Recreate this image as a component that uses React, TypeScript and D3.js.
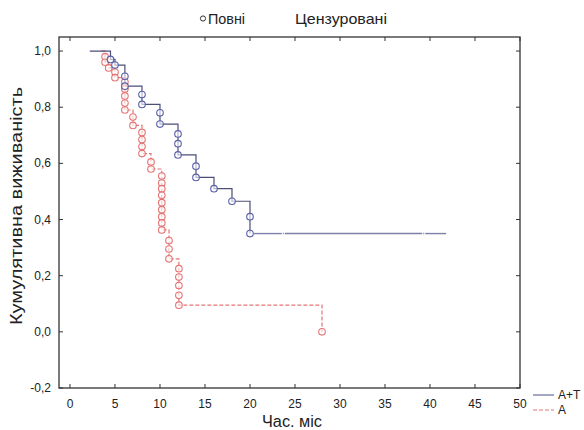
import React from "react";
import * as d3 from "d3";

const W = 584;
const H = 430;

// A+T: circle = complete observation (time, survival after event)
const atStart = [2.2, 1.0];
const atTimes = [4.5, 5.0, 6.1, 6.1, 8, 8, 10, 10, 12, 12, 12, 14, 14, 16, 18, 20, 20];
const atSurv = [0.97, 0.95, 0.91, 0.875, 0.845, 0.81, 0.78, 0.74, 0.705, 0.67, 0.63, 0.59, 0.55, 0.51, 0.465, 0.41, 0.35];
const atEnd = 41.8;
const atCensored = [23.7, 39.3];

// A
const aStart = [3.5, 1.0];
const aTimes = [3.9, 3.9, 4.3, 5.0, 5.0, 6.1, 6.1, 6.1, 6.1, 6.1, 7, 7, 8, 8, 8, 8, 9, 9,
  10.2, 10.2, 10.2, 10.2, 10.2, 10.2, 10.2, 10.2, 10.2, 11, 11, 11, 12.1, 12.1, 12.1, 12.1, 12.1, 28];
const aSurv = [0.98, 0.96, 0.94, 0.925, 0.905, 0.89, 0.865, 0.84, 0.815, 0.79, 0.765, 0.735, 0.71, 0.685, 0.66, 0.635, 0.605, 0.58,
  0.555, 0.53, 0.51, 0.486, 0.46, 0.435, 0.41, 0.388, 0.363, 0.325, 0.295, 0.26, 0.225, 0.195, 0.165, 0.13, 0.095, 0.0];

const xTicks = [0, 5, 10, 15, 20, 25, 30, 35, 40, 45, 50];
const yTicks = [-0.2, 0.0, 0.2, 0.4, 0.6, 0.8, 1.0];

const FONT = "'Liberation Sans Narrow', 'Liberation Sans', Arial, sans-serif";
const BLUE_LINE = "#4b4f78";
const BLUE_DOT = "#5a5fa8";
const RED = "#e47474";

const left = 59, right = 520, top = 37, bottom = 388;

const fmt = (v: number) => d3.format(".1f")(v).replace(".", ",").replace("−", "-");

const App = () => {
  const x = d3.scaleLinear().domain([-1.22, 50]).range([left, right]);
  const y = d3.scaleLinear().domain([-0.2, 1.05]).range([bottom, top]);

  const stepLine = d3.line<[number, number]>()
    .x(d => x(d[0]))
    .y(d => y(d[1]))
    .curve(d3.curveStepAfter);

  const atPts: [number, number][] = [[atStart[0], atStart[1]], ...atTimes.map((t, i) => [t, atSurv[i]] as [number, number])];
  const aPts: [number, number][] = [[aStart[0], aStart[1]], ...aTimes.map((t, i) => [t, aSurv[i]] as [number, number])];

  const lastAt = atSurv[atSurv.length - 1];
  // tail of A+T split around censored marks
  const tailBreaks = [atTimes[atTimes.length - 1], ...atCensored, atEnd];
  const tailSegs = d3.pairs(tailBreaks).map(([a, b], i) => [
    x(a) + (i === 0 ? 4 : 1.5), x(b) - (i === tailBreaks.length - 2 ? 0 : 1.5)
  ]);

  return (
    <svg width={W} height={H} style={{ position: "absolute", left: 0, top: 0, background: "#fff" }}>
      {/* top legend */}
      <circle cx={203} cy={18.5} r={2.6} fill="none" stroke="#333" strokeWidth={1} />
      <text x={208} y={24} fontFamily={FONT} fontSize={15} fill="#222" textLength={37} lengthAdjust="spacingAndGlyphs">Повні</text>
      <text x={295} y={24} fontFamily={FONT} fontSize={15} fill="#222" textLength={92} lengthAdjust="spacingAndGlyphs">Цензуровані</text>

      {/* curves */}
      <path d={stepLine(aPts) || ""} fill="none" stroke={RED} strokeWidth={1.2} strokeDasharray="4,2" />
      <path d={stepLine(atPts) || ""} fill="none" stroke={BLUE_LINE} strokeWidth={1.2} />
      {tailSegs.map(([a, b], i) => (
        <line key={"tail" + i} x1={a} x2={b} y1={y(lastAt)} y2={y(lastAt)} stroke="#7d80a8" strokeWidth={1.4} />
      ))}
      {atCensored.map((t, i) => (
        <line key={"c" + i} x1={x(t) - 0.5} x2={x(t) + 0.5} y1={y(lastAt)} y2={y(lastAt)} stroke="#7d80a8" strokeWidth={1.4} />
      ))}

      {aTimes.map((t, i) => (
        <circle key={"a" + i} cx={x(t)} cy={y(aSurv[i])} r={3.3} fill="#fff" fillOpacity={0.6} stroke={RED} strokeWidth={1.1} />
      ))}
      {atTimes.map((t, i) => (
        <circle key={"at" + i} cx={x(t)} cy={y(atSurv[i])} r={3.3} fill="#fff" fillOpacity={0.6} stroke={BLUE_DOT} strokeWidth={1.1} />
      ))}

      {/* frame */}
      <rect x={left} y={top} width={right - left} height={bottom - top} fill="none" stroke="#333" strokeWidth={1.3} />

      {/* x ticks */}
      {xTicks.map(t => (
        <g key={"xt" + t}>
          <line x1={x(t)} x2={x(t)} y1={bottom} y2={bottom - 4} stroke="#333" />
          <line x1={x(t)} x2={x(t)} y1={top} y2={top + 4} stroke="#333" />
          <text x={x(t)} y={408} textAnchor="middle" fontFamily={FONT} fontSize={12} fill="#222">{t}</text>
        </g>
      ))}
      {/* y ticks */}
      {yTicks.map(t => (
        <g key={"yt" + t}>
          <line x1={left} x2={left + 4} y1={y(t)} y2={y(t)} stroke="#333" />
          <line x1={right} x2={right - 4} y1={y(t)} y2={y(t)} stroke="#333" />
          <text x={51} y={y(t) + 4} textAnchor="end" fontFamily={FONT} fontSize={12} fill="#222">{fmt(t)}</text>
        </g>
      ))}

      {/* axis titles */}
      <text x={292} y={427} textAnchor="middle" fontFamily={FONT} fontSize={16} fill="#222" textLength={60} lengthAdjust="spacingAndGlyphs">Час. міс</text>
      <text transform={`translate(22, 206) rotate(-90)`} textAnchor="middle" fontFamily={FONT} fontSize={16} fill="#222"
        textLength={238} lengthAdjust="spacingAndGlyphs">
        Кумулятивна виживаність
      </text>

      {/* bottom-right legend */}
      <line x1={533} x2={554} y1={395} y2={395} stroke="#7d80a8" strokeWidth={1.4} />
      <text x={558} y={399} fontFamily={FONT} fontSize={12} fill="#222">A+T</text>
      <line x1={533} x2={554} y1={410} y2={410} stroke={RED} strokeWidth={1.2} strokeDasharray="4,2" />
      <text x={558} y={414} fontFamily={FONT} fontSize={12} fill="#222">A</text>
    </svg>
  );
};

export default App;
